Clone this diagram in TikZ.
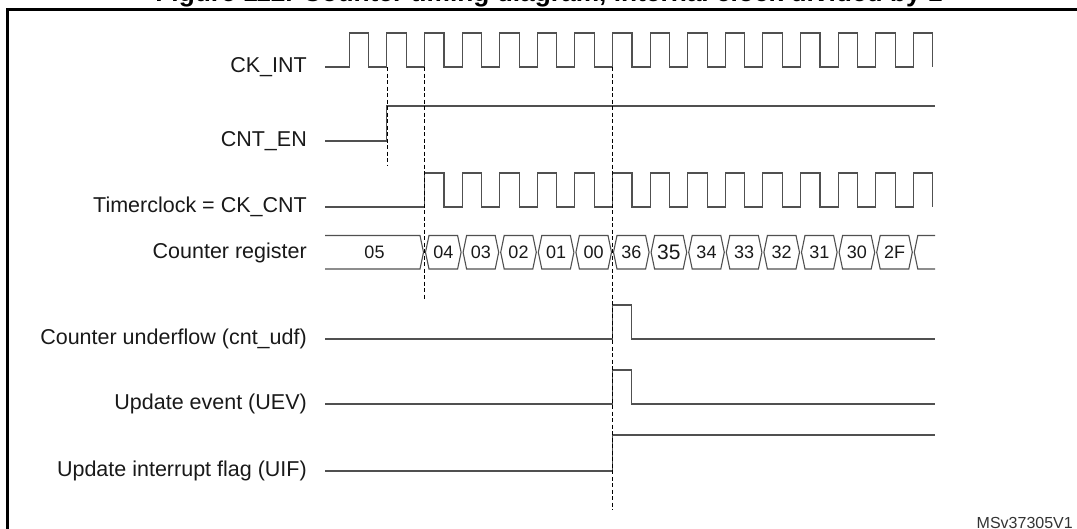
\documentclass[tikz,border=0pt]{standalone}
\usepackage{fontspec}
\setmainfont{Liberation Sans}
\definecolor{wave}{RGB}{80,80,80}
\def\tper{37.6}
\def\tzero{424.5}

\begin{document}
\begin{tikzpicture}[x=1pt,y=-1pt,
  sig/.style={draw=wave,line width=1.1pt},
  guide/.style={draw=black,line width=0.8pt,dash pattern=on 4pt off 2.5pt},
  lbl/.style={anchor=base east,inner sep=0pt,font=\fontsize{21.5}{24}\selectfont,text=black!90},
  val/.style={inner sep=0pt,font=\fontsize{18}{20}\selectfont,text=black!90}]
  \useasboundingbox (0,0) rectangle (1077,528);
  % frame and cut title
  \draw[line width=2.5pt] (7.5,540) -- (7.5,9.5) -- (1090,9.5);
  \node[anchor=base,inner sep=0pt,font=\fontsize{26.3}{28}\selectfont\bfseries] (title) at (549,1.5)
    {Figure 112. Counter timing diagram, internal clock divided by 1};

  % signal names
  \node[lbl] (ckint) at (307,72.5) {CK\_INT};
  \node[lbl] (cnten) at (307,146.5) {CNT\_EN};
  \node[lbl] (tclk) at (307,212.5) {Timerclock = CK\_CNT};
  \node[lbl] (cntreg) at (307,258) {Counter register};
  \node[lbl] (udf) at (307,344.5) {Counter underflow (cnt\_udf)};
  \node[lbl] (uev) at (307,409.5) {Update event (UEV)};
  \node[lbl] (uif) at (307,476.5) {Update interrupt flag (UIF)};

  % CK_INT
  \draw[sig] (325,67) \foreach \k in {-2,...,13}{
    -- ({\tzero+\tper*\k},67) -- ++(0,-34) -- ++(19.5,0) -- ++(0,34) };
  % CNT_EN
  \draw[sig] (325,141) -- ({\tzero-\tper},141) -- ++(0,-35) -- (935,106);
  % Timerclock
  \draw[sig] (325,207) \foreach \k in {0,...,13}{
    -- ({\tzero+\tper*\k},207) -- ++(0,-34) -- ++(19.5,0) -- ++(0,34) };

  % Counter register
  \draw[sig] (325,235.5) -- ({\tzero-4.5},235.5) -- ({\tzero-1},252.3)
    -- ({\tzero-4.5},269) -- (325,269);
  \node[val] (c05) at (374.5,252.3) {05};
  \foreach \v [count=\i from 0] in {04,03,02,01,00,36,{\fontsize{21}{21}\selectfont 35},34,33,32,31,30,2F}{
    \draw[sig] ({\tzero+\tper*\i+1},252.3) -- ++(3.5,-16.8)
      -- ({\tzero+\tper*(\i+1)-4.5},235.5) -- ++(3.5,16.8) -- ++(-3.5,16.7)
      -- ({\tzero+\tper*\i+4.5},269) -- cycle;
    \node[val] (c\i) at ({\tzero+\tper*(\i+0.5)},252.3) {\v};
  }
  \draw[sig] (935,235.5) -- ({\tzero+\tper*13+4.5},235.5) -- ({\tzero+\tper*13+1},252.3)
    -- ({\tzero+\tper*13+4.5},269) -- (935,269);

  % underflow, update event, flag
  \draw[sig] (325,339) -- ({\tzero+5*\tper},339) -- ++(0,-34) -- ++(19,0) -- ++(0,34) -- (935,339);
  \draw[sig] (325,404) -- ({\tzero+5*\tper},404) -- ++(0,-34) -- ++(19,0) -- ++(0,34) -- (935,404);
  \draw[sig] (325,471) -- ({\tzero+5*\tper},471) -- ++(0,-36) -- (935,435);

  % guides
  \draw[guide] ({\tzero-\tper},67) -- ++(0,98);
  \draw[guide] (\tzero,67) -- (\tzero,300);
  \draw[guide] ({\tzero+5*\tper},67) -- ++(0,443);

  \node[anchor=base east,inner sep=0pt,font=\fontsize{16}{16}\selectfont,text=black!80] (ref)
    at (1073,528.5) {MSv37305V1};
\end{tikzpicture}
\end{document}
